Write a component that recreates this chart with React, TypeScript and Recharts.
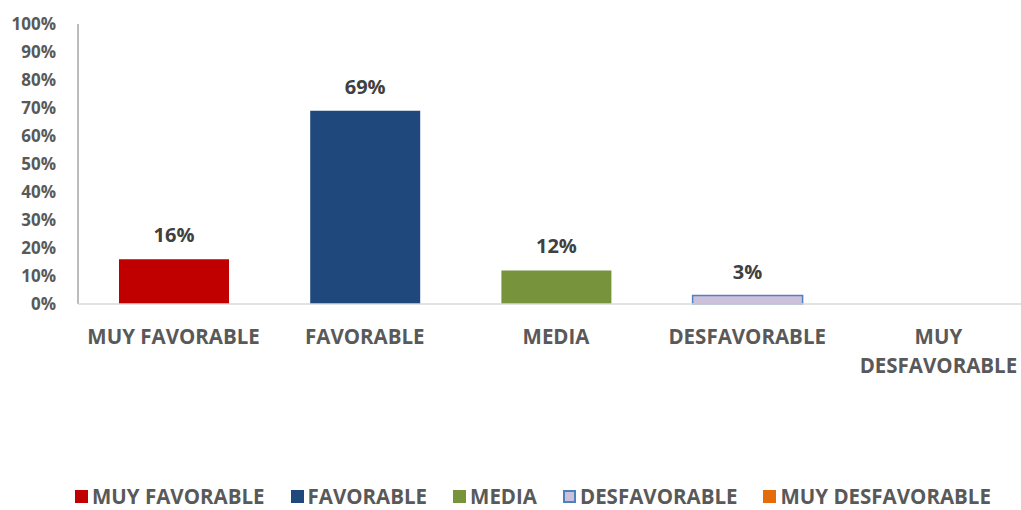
import React from "react";
import { BarChart, Bar, XAxis, YAxis, Cell, LabelList, Legend } from "recharts";

const categories = ["MUY FAVORABLE", "FAVORABLE", "MEDIA", "DESFAVORABLE", "MUY DESFAVORABLE"];
const values = [16, 69, 12, 3, 0];
const fills = ["#C00000", "#1F497D", "#77933C", "#CCC1DA", "#E46C0A"];
const strokes = ["none", "none", "none", "#4F81BD", "none"];
const yTicks = [0, 10, 20, 30, 40, 50, 60, 70, 80, 90, 100];

const data = categories.map((name, i) => ({ name, value: values[i] }));

const FONT = "'Open Sans', Lato, sans-serif";
const TEXT = "#595959";

const XTick = (props: any) => {
  const { x, y, payload } = props;
  const label: string = payload.value;
  const words = label.split(" ");
  const lines = label.length > 14 ? words : [label];
  return (
    <g transform={`translate(${x},${y})`}>
      {lines.map((l, i) => (
        <text
          key={i}
          x={0}
          y={32 + i * 29}
          textAnchor="middle"
          fill={TEXT}
          fontFamily={FONT}
          fontWeight={700}
          fontSize={20.5}
        >
          {l}
        </text>
      ))}
    </g>
  );
};

const LegendContent = () => (
  <div
    style={{
      display: "flex",
      justifyContent: "flex-start",
      paddingLeft: 75,
      paddingTop: 12,
      height: 40,
      boxSizing: "border-box",
      fontFamily: FONT,
      fontWeight: 700,
      fontSize: 20.5,
      color: TEXT,
      whiteSpace: "nowrap",
    }}
  >
    {categories.map((c, i) => (
      <div key={c} style={{ display: "flex", alignItems: "center", marginRight: 26 }}>
        <span
          style={{
            display: "inline-block",
            width: 13,
            height: 13,
            background: fills[i],
            border: strokes[i] === "none" ? "none" : `2px solid ${strokes[i]}`,
            boxSizing: "border-box",
            marginRight: 4,
          }}
        />
        <span>{c}</span>
      </div>
    ))}
  </div>
);

const renderLabel = (props: any) => {
  const { x, y, width, value } = props;
  if (!value) return null;
  return (
    <text
      x={x + width / 2}
      y={y - 17}
      textAnchor="middle"
      fill="#404040"
      fontFamily={FONT}
      fontWeight={700}
      fontSize={20}
    >
      {`${value}%`}
    </text>
  );
};

export default function App() {
  return (
    <div style={{ position: "absolute", left: 0, top: 0, background: "#fff" }}>
      <BarChart
        width={1021}
        height={510}
        data={data}
        margin={{ top: 24, right: -13, left: 0, bottom: 0 }}
      >
        <YAxis
          width={78}
          domain={[0, 100]}
          ticks={yTicks}
          interval={0}
          tickFormatter={(v: number) => `${v}%`}
          tickLine={false}
          tickMargin={16}
          axisLine={{ stroke: "#A6A6A6", strokeWidth: 1.5 }}
          tick={{ fill: TEXT, fontFamily: FONT, fontWeight: 700, fontSize: 17 }}
        />
        <XAxis
          dataKey="name"
          height={166}
          interval={0}
          tickLine={false}
          axisLine={{ stroke: "#D9D9D9", strokeWidth: 1.5 }}
          tick={<XTick />}
        />
        <Legend verticalAlign="bottom" height={40} content={<LegendContent />} />
        <Bar dataKey="value" barSize={110} isAnimationActive={false}>
          {data.map((d, i) => (
            <Cell key={d.name} fill={fills[i]} stroke={strokes[i]} strokeWidth={strokes[i] === "none" ? 0 : 1.5} />
          ))}
          <LabelList dataKey="value" content={renderLabel} />
        </Bar>
      </BarChart>
    </div>
  );
}
